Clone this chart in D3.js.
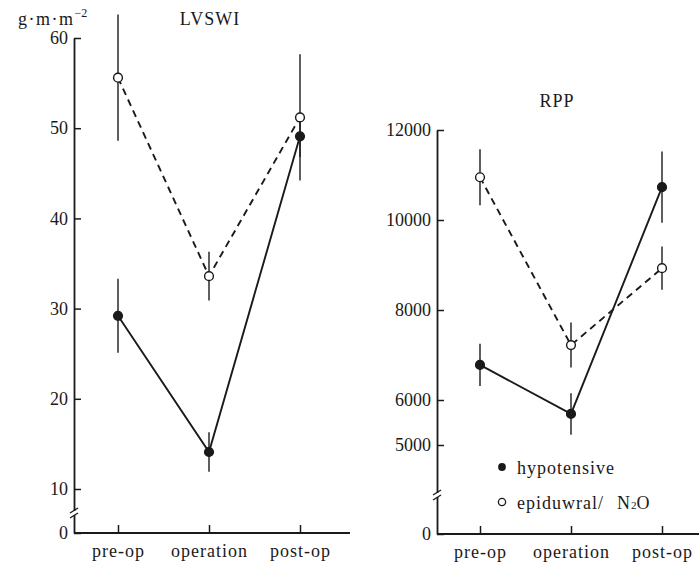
<!DOCTYPE html>
<html>
<head>
<meta charset="utf-8">
<script src="https://cdn.jsdelivr.net/npm/d3@7"></script>
<style>
body { margin: 0; background: #fff; }
</style>
</head>
<body>
<div id="chart"></div>
<script>
const phases = ['pre-op', 'operation', 'post-op'];

// LVSWI (g·m·m-2)
const lvHypo = [29.2, 14.1, 49.1];
const lvHypoErr = [4.1, 2.2, 2.3];
const lvEpi = [55.6, 33.6, 51.2];
const lvEpiErr = [7.0, 2.7, 7.0];
const lvTicks = [0, 10, 20, 30, 40, 50, 60];

// RPP
const rppHypo = [6780, 5690, 10730];
const rppHypoErr = [470, 460, 790];
const rppEpi = [10950, 7220, 8930];
const rppEpiErr = [620, 500, 480];
const rppTicks = [0, 5000, 6000, 8000, 10000, 12000];

const width = 699, height = 562;
const ink = '#1a1a1a';
const serif = "'Liberation Serif', 'DejaVu Serif', serif";

const svg = d3.select('#chart').append('svg')
    .attr('width', width)
    .attr('height', height)
    .attr('font-family', serif);

function panel(opt) {
    const g = svg.append('g');
    const y = d3.scaleLinear().domain(opt.yDomain).range(opt.yRange);
    const x = d3.scalePoint().domain(phases).range(opt.xRange);

    // y axis
    g.append('g')
        .attr('transform', `translate(${opt.axisX},0)`)
        .call(d3.axisLeft(y).tickValues(opt.ticks).tickFormat(d3.format('d'))
            .tickSizeInner(-7).tickSizeOuter(0).tickPadding(6))
        .call(a => a.select('.domain').attr('stroke', ink).attr('stroke-width', 1.8))
        .call(a => a.selectAll('.tick line').attr('stroke', ink).attr('stroke-width', 1.5))
        .call(a => a.selectAll('.tick text').style('font-size', '18px'));

    // x axis
    g.append('line')
        .attr('x1', opt.axisX).attr('x2', opt.xEnd)
        .attr('y1', opt.yRange[0]).attr('y2', opt.yRange[0])
        .attr('stroke', ink).attr('stroke-width', 1.8);
    g.append('g')
        .attr('transform', `translate(0,${opt.yRange[0]})`)
        .call(d3.axisBottom(x).tickSizeInner(-8).tickSizeOuter(0).tickPadding(11))
        .call(a => a.select('.domain').remove())
        .call(a => a.selectAll('.tick line').attr('stroke', ink).attr('stroke-width', 1.5))
        .call(a => a.selectAll('.tick text').style('font-size', '18px')
            .style('letter-spacing', '1px'));

    // axis break
    const by = opt.breakY, bx = opt.axisX;
    g.append('rect').attr('x', bx - 3).attr('y', by - 2).attr('width', 6).attr('height', 4).attr('fill', '#fff');
    [-2.5, 2.5].forEach(o => {
        g.append('line')
            .attr('x1', bx - 4).attr('y1', by + o + 2.5)
            .attr('x2', bx + 4).attr('y2', by + o - 2.5)
            .attr('stroke', ink).attr('stroke-width', 1.4);
    });

    // error bars
    const series = [
        {v: opt.epi, e: opt.epiErr, dash: '7,5', fill: '#fff'},
        {v: opt.hypo, e: opt.hypoErr, dash: null, fill: ink}
    ];
    series.forEach(s => {
        g.selectAll(null).data(phases).join('line')
            .attr('x1', d => x(d)).attr('x2', d => x(d))
            .attr('y1', (d, i) => y(s.v[i] + s.e[i]))
            .attr('y2', (d, i) => y(s.v[i] - s.e[i]))
            .attr('stroke', ink).attr('stroke-width', 1.4);
    });
    const line = d3.line().x((d, i) => x(phases[i])).y(d => y(d));
    series.forEach(s => {
        g.append('path')
            .attr('d', line(s.v))
            .attr('fill', 'none')
            .attr('stroke', ink)
            .attr('stroke-width', 1.9)
            .attr('stroke-dasharray', s.dash);
    });
    series.forEach(s => {
        g.selectAll(null).data(s.v).join('circle')
            .attr('cx', (d, i) => x(phases[i]))
            .attr('cy', d => y(d))
            .attr('r', 4.4)
            .attr('fill', s.fill)
            .attr('stroke', ink)
            .attr('stroke-width', 1.4);
    });

    g.append('text')
        .attr('x', opt.titleX).attr('y', opt.titleY)
        .attr('text-anchor', 'middle')
        .style('font-size', '18px')
        .style('letter-spacing', '1px')
        .text(opt.title);
    return g;
}

panel({
    yDomain: [0, 10, 60], yRange: [533, 489, 38],
    xRange: [118, 300], axisX: 74, xEnd: 350, breakY: 513,
    ticks: lvTicks, hypo: lvHypo, hypoErr: lvHypoErr, epi: lvEpi, epiErr: lvEpiErr,
    title: 'LVSWI', titleX: 210, titleY: 25
});

panel({
    yDomain: [0, 5000, 12000], yRange: [534, 445, 130],
    xRange: [480, 662], axisX: 437, xEnd: 699, breakY: 495,
    ticks: rppTicks, hypo: rppHypo, hypoErr: rppHypoErr, epi: rppEpi, epiErr: rppEpiErr,
    title: 'RPP', titleX: 557, titleY: 107
});

// unit label
const unit = svg.append('text')
    .attr('x', 18).attr('y', 25)
    .style('font-size', '18px')
    .style('letter-spacing', '1.5px');
unit.append('tspan').text('g·m·m');
unit.append('tspan').attr('dy', -8).style('font-size', '12px').style('letter-spacing', '0px').text('−2');

// legend
const legend = svg.append('g');
legend.append('circle').attr('cx', 502).attr('cy', 467).attr('r', 3.9).attr('fill', ink);
legend.append('text').attr('x', 517).attr('y', 474)
    .style('font-size', '18px').style('letter-spacing', '1px').text('hypotensive');
legend.append('circle').attr('cx', 502).attr('cy', 502).attr('r', 3.6)
    .attr('fill', '#fff').attr('stroke', ink).attr('stroke-width', 1.3);
const lt = legend.append('text').attr('x', 517).attr('y', 509)
    .style('font-size', '18px').style('letter-spacing', '1px');
lt.append('tspan').text('epiduwral/');
lt.append('tspan').attr('x', 617).text('N');
lt.append('tspan').style('font-size', '11px').style('letter-spacing', '0px').text('2');
lt.append('tspan').text('O');

svg.selectAll('text').style('font-family', serif).attr('fill', '#1a1a1a');
</script>
</body>
</html>
